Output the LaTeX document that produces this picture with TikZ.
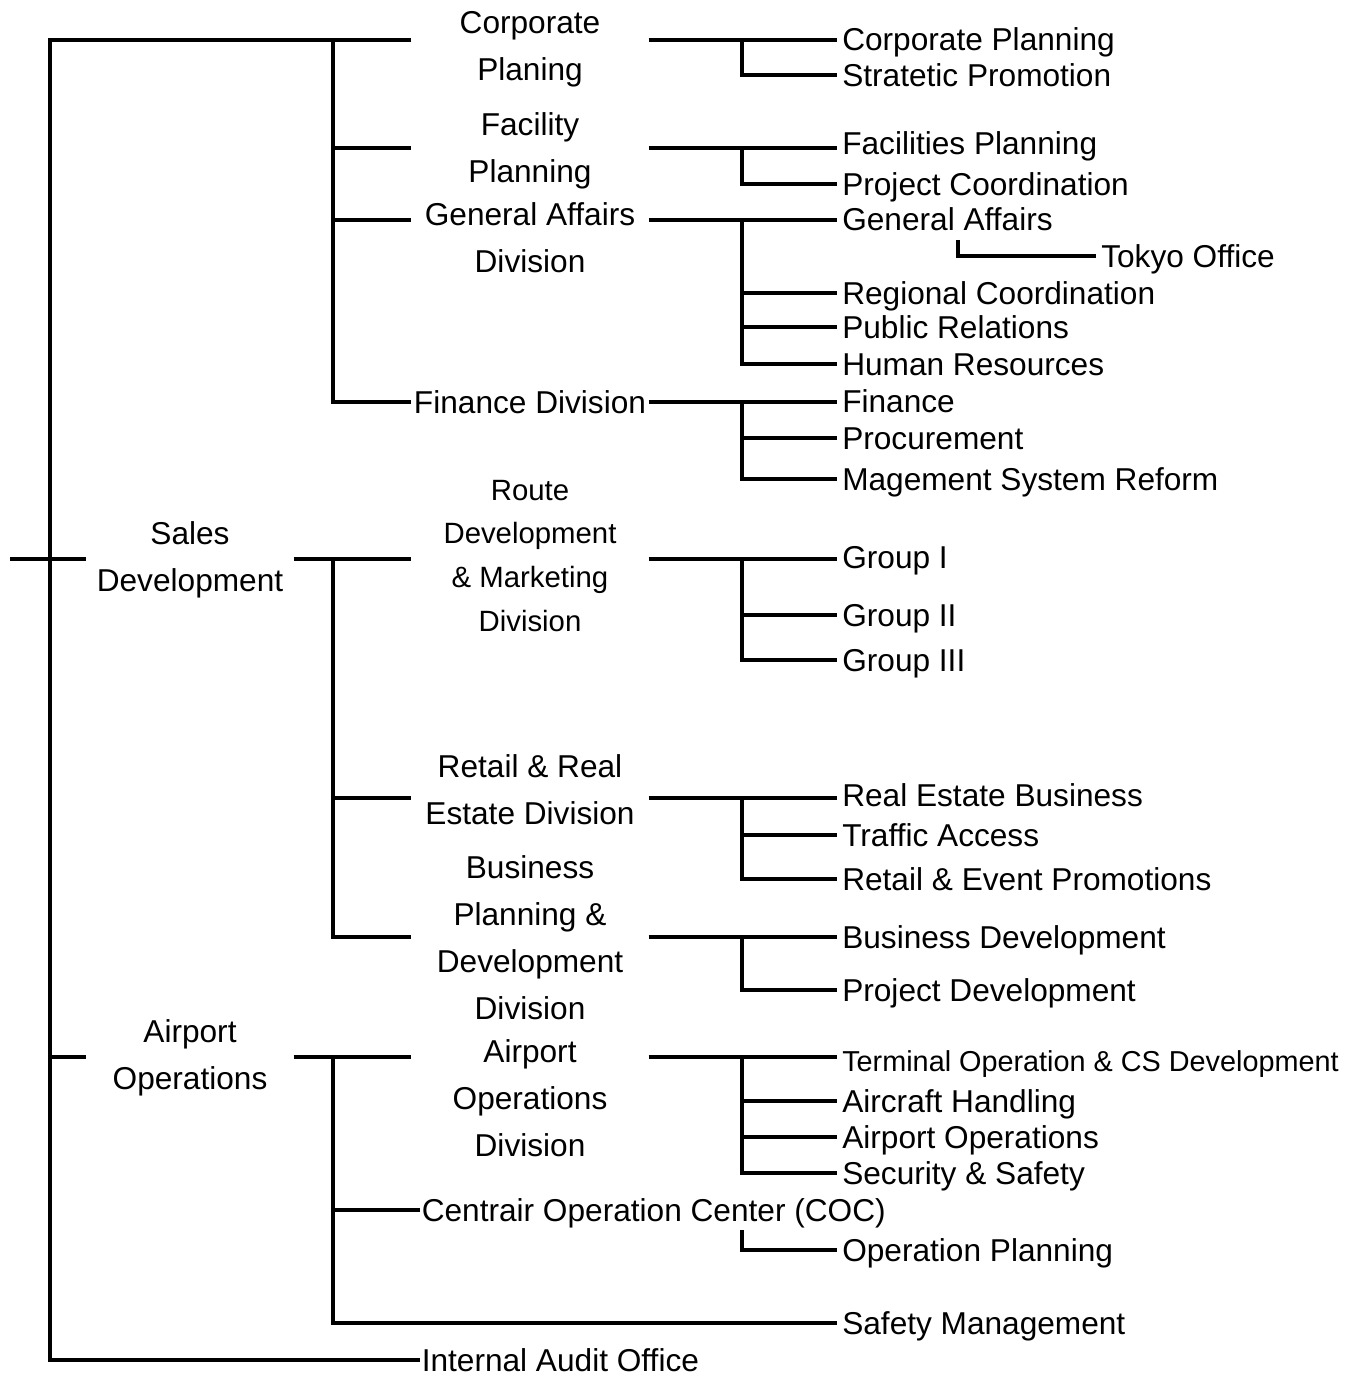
\documentclass[tikz,border=0pt]{standalone}
\usepackage{fontspec}
\setmainfont{Liberation Sans}
\usepackage{tikz}

\begin{document}
\begin{tikzpicture}[x=0.02cm,y=-0.02cm,line width=2pt]
    \tikzstyle{unit}=[inner sep=0pt, align=center, minimum width=4.68cm, font=\fontsize{18}{26.7}\selectfont]
    \tikzstyle{head}=[unit, minimum width=4.08cm]
    \tikzstyle{dept}=[inner sep=0pt, anchor=west, text height=0.45cm, text depth=0pt, font=\fontsize{18}{22}\selectfont]
    \tikzstyle{leaf}=[dept, inner xsep=2pt]

    \useasboundingbox (0,0) rectangle (1349,1378);

    % heads and divisions
    \node[head] (sd)  at (190,560)  {Sales\\Development};
    \node[head] (aop) at (190,1058) {Airport\\Operations};
    \node[unit] (cp) at (530,49)   {Corporate\\Planing};
    \node[unit] (fp) at (530,151)  {Facility\\Planning};
    \node[unit] (ga) at (530,238)  {General Affairs\\Division};
    \node[unit] (fd) at (530,402)  {Finance Division};
    \node[unit, font=\fontsize{16.7}{25}\selectfont] (rd) at (530,556) {Route\\Development\\\& Marketing\\Division};
    \node[unit] (re) at (530,790)  {Retail \& Real\\Estate Division};
    \node[unit] (bp) at (530,938)  {Business\\Planning \&\\Development\\Division};
    \node[unit] (ao) at (530,1098) {Airport\\Operations\\Division};
    \node[dept] (co) at (420,1210) {Centrair Operation Center (COC)};
    \node[dept] (ia) at (420,1360) {Internal Audit Office};

    % sections
    \node[leaf] (l11) at (837,39)   {Corporate Planning};
    \node[leaf] (l12) at (837,75)   {Stratetic Promotion};
    \node[leaf] (l21) at (837,143)  {Facilities Planning};
    \node[leaf] (l22) at (837,184)  {Project Coordination};
    \node[leaf] (l31) at (837,219)  {General Affairs};
    \node[leaf] (l32) at (1096,256) {Tokyo Office};
    \node[leaf] (l33) at (837,293)  {Regional Coordination};
    \node[leaf] (l34) at (837,327)  {Public Relations};
    \node[leaf] (l35) at (837,364)  {Human Resources};
    \node[leaf] (l41) at (837,401)  {Finance};
    \node[leaf] (l42) at (837,438)  {Procurement};
    \node[leaf] (l43) at (837,479)  {Magement System Reform};
    \node[leaf] (l51) at (837,557)  {Group I};
    \node[leaf] (l52) at (837,615)  {Group II};
    \node[leaf] (l53) at (837,660)  {Group III};
    \node[leaf] (l61) at (837,795)  {Real Estate Business};
    \node[leaf] (l62) at (837,835)  {Traffic Access};
    \node[leaf] (l63) at (837,879)  {Retail \& Event Promotions};
    \node[leaf] (l71) at (837,937)  {Business Development};
    \node[leaf] (l72) at (837,990)  {Project Development};
    \node[leaf, text height=0.41cm, font=\fontsize{16.4}{20}\selectfont] (l81) at (837,1061) {Terminal Operation \& CS Development};
    \node[leaf] (l82) at (837,1101) {Aircraft Handling};
    \node[leaf] (l83) at (837,1137) {Airport Operations};
    \node[leaf] (l84) at (837,1173) {Security \& Safety};
    \node[leaf] (l91) at (837,1250) {Operation Planning};
    \node[leaf] (l95) at (837,1323) {Safety Management};

    % junctions
    \coordinate (top)  at (50,40);
    \coordinate (bot)  at (50,1360);
    \coordinate (stub) at (10,559);
    \coordinate (aCP) at (333,40);
    \coordinate (aFP) at (333,148);
    \coordinate (aGA) at (333,220);
    \coordinate (aFD) at (333,402);
    \coordinate (bRD) at (333,559);
    \coordinate (bRE) at (333,798);
    \coordinate (bBP) at (333,937);
    \coordinate (cAO) at (333,1057);
    \coordinate (cCO) at (333,1210);
    \coordinate (cSM) at (333,1323);
    \coordinate (rx) at (742,0);
    \coordinate (tk) at (958,240);
    \coordinate (op) at (742,1230);

    % main tree
    \draw (cp.west |- aCP) -- (top) -- (bot) -- (ia.west);
    \draw (stub) -- (sd.west |- stub);
    \draw (top |- cAO) -- (aop.west |- cAO);
    \draw (sd.east |- bRD) -- (rd.west |- bRD);
    \draw (aop.east |- cAO) -- (ao.west |- cAO);
    \draw (aCP) -- (aFD) -- (fd.west);
    \draw (bRD) -- (bBP) -- (bp.west |- bBP);
    \draw (cAO) -- (cSM) -- (l95.west |- cSM);
    \draw (aFP) -- (fp.west |- aFP);
    \draw (aGA) -- (ga.west |- aGA);
    \draw (bRE) -- (re.west |- bRE);
    \draw (cCO) -- (co.west);

    % corporate planing
    \draw (cp.east |- aCP) -- (l11.west |- aCP);
    \draw (rx |- aCP) |- (l12.west);
    % facility planning
    \draw (fp.east |- aFP) -- (l21.west |- aFP);
    \draw (rx |- aFP) |- (l22.west);
    % general affairs
    \draw (ga.east |- aGA) -- (l31.west |- aGA);
    \draw (rx |- aGA) |- (l35.west);
    \draw (rx |- l33.west) -- (l33.west);
    \draw (rx |- l34.west) -- (l34.west);
    \draw (tk) |- (l32.west);
    % finance
    \draw (fd.east) -- (l41.west |- fd.east);
    \draw (rx |- fd.east) |- (l43.west);
    \draw (rx |- l42.west) -- (l42.west);
    % route development
    \draw (rd.east |- bRD) -- (l51.west |- bRD);
    \draw (rx |- bRD) |- (l53.west);
    \draw (rx |- l52.west) -- (l52.west);
    % retail and real estate
    \draw (re.east |- bRE) -- (l61.west |- bRE);
    \draw (rx |- bRE) |- (l63.west);
    \draw (rx |- l62.west) -- (l62.west);
    % business planning
    \draw (bp.east |- bBP) -- (l71.west |- bBP);
    \draw (rx |- bBP) |- (l72.west);
    % airport operations
    \draw (ao.east |- cAO) -- (l81.west |- cAO);
    \draw (rx |- cAO) |- (l84.west);
    \draw (rx |- l82.west) -- (l82.west);
    \draw (rx |- l83.west) -- (l83.west);
    \draw (op) |- (l91.west);
\end{tikzpicture}
\end{document}
